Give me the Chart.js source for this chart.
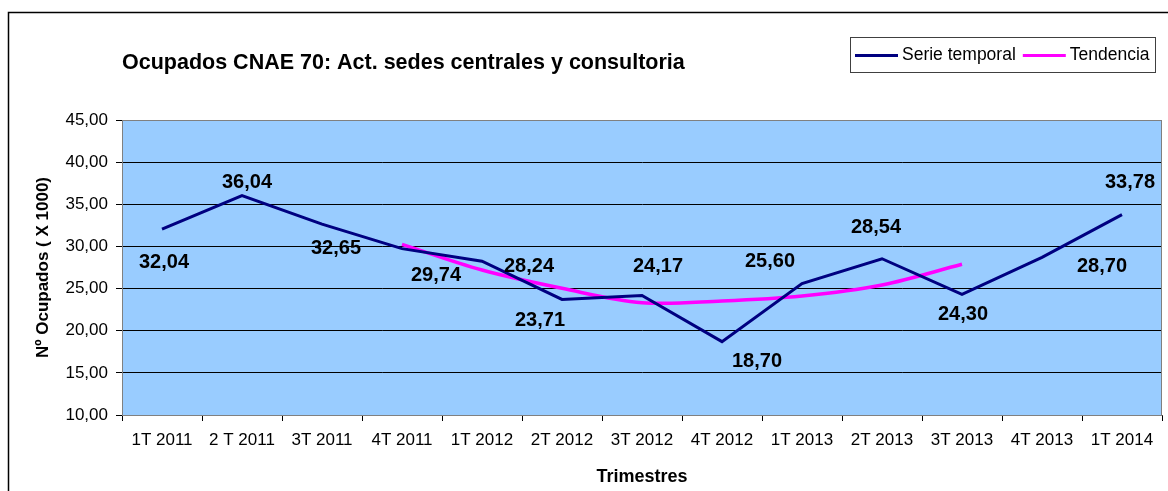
<!DOCTYPE html>
<html>
<head>
<meta charset="utf-8">
<script src="https://cdn.jsdelivr.net/npm/chart.js@4"></script>
<style>
  body { margin: 0; background: #ffffff; }
  canvas { display: block; }
</style>
</head>
<body>
<canvas id="myChart" width="1168" height="491"></canvas>
<script>
// categories (trimestres)
var quarters = ["1T 2011", "2 T 2011", "3T 2011", "4T 2011", "1T 2012", "2T 2012", "3T 2012",
  "4T 2012", "1T 2013", "2T 2013", "3T 2013", "4T 2013", "1T 2014"];

// Ocupados (x 1000)
var serieTemporal = [32.04, 36.04, 32.65, 29.74, 28.24, 23.71, 24.17, 18.70, 25.60, 28.54, 24.30, 28.70, 33.78];

// trend line
var tendencia = [null, null, null, 30.25, 27.2, 25.03, 23.33, 23.53, 24.12, 25.43, 27.88, null, null];

var yMin = 10;
var yMax = 45;
var yStep = 5;

var chartTitle = "Ocupados CNAE 70: Act. sedes centrales y consultoria";
var yTitle = "Nº Ocupados ( X 1000)";
var xTitle = "Trimestres";

// where each value label sits, relative to its point (px)
var labelShift = [[2, 33], [5, -13], [14, 24], [34, 27], [47, 5], [-22, 21], [16, -29],
  [35, 20], [-32, -22], [-6, -31], [1, 20], [60, 9], [8, -32]];

function comma(v) {
  return Number(v).toFixed(2).replace(".", ",");
}

// blue background + frame + title + legend + labels
var excelLook = {
  id: "excelLook",
  beforeDraw: function (chart) {
    var ctx = chart.ctx;
    var a = chart.chartArea;
    ctx.save();
    ctx.fillStyle = "#99CCFF";
    ctx.fillRect(a.left, a.top, a.right - a.left, a.bottom - a.top);
    ctx.restore();
  },
  afterDatasetsDraw: function (chart) {
    var ctx = chart.ctx;
    var a = chart.chartArea;
    ctx.save();

    // value labels on the main series
    var meta = chart.getDatasetMeta(0);
    ctx.font = "bold 20px 'Liberation Sans', Arial, sans-serif";
    ctx.fillStyle = "#000000";
    ctx.textAlign = "center";
    ctx.textBaseline = "middle";
    meta.data.forEach(function (pt, i) {
      var s = labelShift[i];
      ctx.fillText(comma(serieTemporal[i]), pt.x + s[0], pt.y + s[1]);
    });

    // plot frame
    ctx.strokeStyle = "#808080";
    ctx.lineWidth = 1;
    ctx.strokeRect(a.left + 0.5, a.top + 0.5, a.right - a.left - 1, a.bottom - a.top);

    // outer chart border (runs off the picture on the right and bottom)
    ctx.strokeStyle = "#000000";
    ctx.lineWidth = 1.5;
    ctx.strokeRect(8.5, 12.5, 1300, 600);

    // title
    ctx.font = "bold 21.5px 'Liberation Sans', Arial, sans-serif";
    ctx.textAlign = "left";
    ctx.fillText(chartTitle, a.left, 63);

    // legend box
    var lx = 850, ly = 37, lw = 305, lh = 35;
    ctx.fillStyle = "#ffffff";
    ctx.fillRect(lx, ly, lw, lh);
    ctx.strokeStyle = "#404040";
    ctx.lineWidth = 1;
    ctx.strokeRect(lx + 0.5, ly + 0.5, lw, lh);
    ctx.font = "17.5px 'Liberation Sans', Arial, sans-serif";
    ctx.textBaseline = "middle";
    var x = lx + 5;
    var cy = ly + lh / 2 + 1;
    chart.data.datasets.forEach(function (ds) {
      ctx.strokeStyle = ds.borderColor;
      ctx.lineWidth = 3;
      ctx.beginPath();
      ctx.moveTo(x, cy);
      ctx.lineTo(x + 43, cy);
      ctx.stroke();
      ctx.fillStyle = "#000000";
      ctx.fillText(ds.label, x + 47, cy);
      x += 47 + ctx.measureText(ds.label).width + 7;
    });

    ctx.restore();
  }
};

var ctx = document.getElementById("myChart").getContext("2d");

var myChart = new Chart(ctx, {
  type: "line",
  data: {
    labels: quarters,
    datasets: [
      {
        label: "Serie temporal",
        data: serieTemporal,
        borderColor: "#000080",
        borderWidth: 3,
        pointRadius: 0,
        tension: 0,
        fill: false
      },
      {
        label: "Tendencia",
        data: tendencia,
        borderColor: "#FF00FF",
        borderWidth: 3.5,
        pointRadius: 0,
        tension: 0.35,
        fill: false
      }
    ]
  },
  options: {
    responsive: false,
    animation: false,
    layout: {
      padding: { left: 8, top: 120, right: 6, bottom: 0 }
    },
    plugins: {
      legend: { display: false },
      title: { display: false },
      tooltip: { enabled: false }
    },
    scales: {
      x: {
        offset: true,
        grid: {
          offset: true,
          drawOnChartArea: false,
          color: "#000000",
          tickLength: 6
        },
        border: { color: "#404040" },
        ticks: {
          color: "#000000",
          padding: 9,
          maxRotation: 0,
          autoSkip: false,
          font: { family: "'Liberation Sans', Arial, sans-serif", size: 17 }
        },
        title: {
          display: true,
          text: xTitle,
          color: "#000000",
          padding: { top: 4, bottom: 3 },
          font: { family: "'Liberation Sans', Arial, sans-serif", size: 18, weight: "bold" }
        },
        afterFit: function (scale) {
          scale.height = 76;
        }
      },
      y: {
        min: yMin,
        max: yMax,
        ticks: {
          stepSize: yStep,
          color: "#000000",
          padding: 8,
          font: { family: "'Liberation Sans', Arial, sans-serif", size: 17 },
          callback: function (v) { return comma(v); }
        },
        grid: {
          color: "#000000",
          lineWidth: 1,
          tickLength: 6
        },
        border: { color: "#808080" },
        title: {
          display: true,
          text: yTitle,
          color: "#000000",
          padding: { top: 25, bottom: 0 },
          font: { family: "'Liberation Sans', Arial, sans-serif", size: 17, weight: "bold" }
        },
        afterFit: function (scale) {
          scale.width = 114;
        }
      }
    }
  },
  plugins: [excelLook]
});
</script>
</body>
</html>
